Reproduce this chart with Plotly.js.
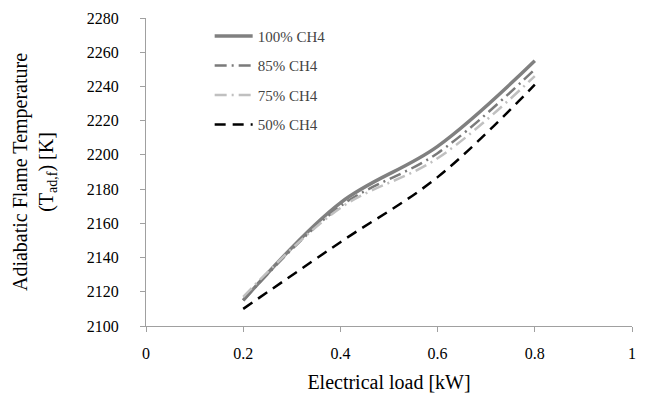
<!DOCTYPE html>
<html>
<head>
<meta charset="utf-8">
<script src="https://cdn.plot.ly/plotly-3.0.1.min.js"></script>
</head>
<body style="margin:0;background:#fff">
<div id="chart" style="width:649px;height:394px"></div>
<script>
const load = [0.2, 0.4, 0.6, 0.8];
const ch4_100 = [2115, 2172, 2205, 2255];
const ch4_85  = [2115, 2170, 2201, 2250];
const ch4_75  = [2117, 2169, 2198, 2246];
const ch4_50  = [2110, 2149, 2187, 2241];
const seriesNames = ['100% CH4', '85% CH4', '75% CH4', '50% CH4'];
const xTicks = [0, 0.2, 0.4, 0.6, 0.8, 1];
const yTicks = [2100, 2120, 2140, 2160, 2180, 2200, 2220, 2240, 2260, 2280];

const styles = [
  {color: '#808080', width: 3.5, dash: 'solid'},
  {color: '#7a7a7a', width: 2.5, dash: '12px,5px,2px,5px'},
  {color: '#c0c0c0', width: 2.5, dash: '12px,5px,2px,5px'},
  {color: '#000000', width: 2.5, dash: '11px,7px'}
];
const traces = [ch4_100, ch4_85, ch4_75, ch4_50].map((y, i) => ({
  x: load, y: y, type: 'scatter', mode: 'lines', name: seriesNames[i],
  legendgroup: 'g' + i,
  line: {color: styles[i].color, width: styles[i].width, dash: styles[i].dash, shape: 'spline', smoothing: 1}
}));

const FAM = 'Liberation Serif';
const layout = {
  width: 649, height: 394,
  margin: {l: 146, r: 17, t: 18, b: 68},
  paper_bgcolor: '#ffffff', plot_bgcolor: '#ffffff',
  showlegend: true,
  legend: {x: 0.131, y: 0.994, xanchor: 'left', yanchor: 'top', bgcolor: 'rgba(0,0,0,0)', itemwidth: 38,
           font: {family: FAM, size: 15}, traceorder: 'grouped', tracegroupgap: 7},
  xaxis: {range: [0, 1], tickvals: xTicks, ticktext: xTicks.map(String), showgrid: false, zeroline: false,
          showline: true, linecolor: '#a0a0a0', linewidth: 1, ticks: 'outside', ticklen: 5, tickcolor: '#a0a0a0',
          ticklabelstandoff: 8,
          tickfont: {family: FAM, size: 16, color: '#000000'},
          title: {text: 'Electrical load [kW]', font: {family: FAM, size: 20, color: '#000000'}, standoff: 13}},
  yaxis: {range: [2100, 2280], tickvals: yTicks, showgrid: false, zeroline: false,
          showline: true, linecolor: '#a0a0a0', linewidth: 1, ticks: 'outside', ticklen: 5, tickcolor: '#a0a0a0',
          ticklabelstandoff: 18,
          tickfont: {family: FAM, size: 16, color: '#000000'},
          title: {text: 'Adiabatic Flame Temperature<br>(T<sub>ad,f</sub>) [K]', font: {family: FAM, size: 20, color: '#000000'}, standoff: 27}}
};
Plotly.newPlot('chart', traces, layout, {staticPlot: true});
</script>
</body>
</html>
